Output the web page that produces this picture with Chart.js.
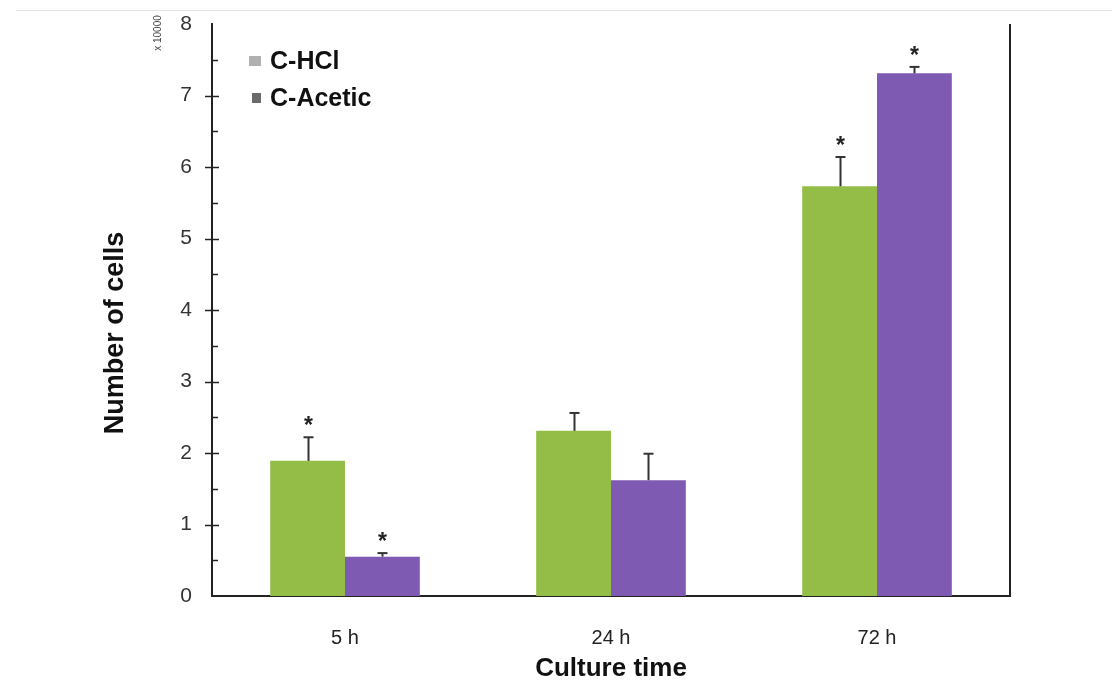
<!DOCTYPE html>
<html>
<head>
<meta charset="utf-8">
<script src="https://cdn.jsdelivr.net/npm/chart.js@4.4.1/dist/chart.umd.min.js"></script>
<style>
  html, body { margin: 0; padding: 0; background: #ffffff; }
  #wrap { width: 1112px; height: 682px; position: relative; }
</style>
</head>
<body>
<div id="wrap"><canvas id="c" width="1112" height="682"></canvas></div>
<script>
// Culture times and cell counts (x 10000)
const categories = ['5 h', '24 h', '72 h'];
const hclValues = [1.89, 2.31, 5.73];
const aceticValues = [0.55, 1.62, 7.31];
// upper end of each error bar
const hclErrTop = [2.22, 2.56, 6.14];
const aceticErrTop = [0.60, 1.99, 7.40];
// significance marks
const hclStar = [true, false, true];
const aceticStar = [true, false, true];
const seriesNames = ['C-HCl', 'C-Acetic'];
const yMin = 0, yMax = 8, yStep = 1;

const GREEN = '#94bd48';
const PURPLE = '#7e5ab2';
const AXIS = '#222222';

// axis tick marks: major ticks cross the axis, minor ticks inside
const tickMarks = {
  id: 'tickMarks',
  afterDraw(chart) {
    const { ctx, chartArea } = chart;
    const y = chart.scales.y;
    const x0 = chartArea.left;
    ctx.save();
    ctx.strokeStyle = AXIS;
    ctx.lineWidth = 1.5;
    for (let v = yMin; v <= yMax; v += yStep) {
      const py = Math.round(y.getPixelForValue(v)) + 0.5;
      if (v > yMin && v < yMax) {
        ctx.beginPath(); ctx.moveTo(x0 - 7, py); ctx.lineTo(x0 + 7, py); ctx.stroke();
      }
      const half = v + yStep / 2;
      if (half < yMax) {
        const ph = Math.round(y.getPixelForValue(half)) + 0.5;
        ctx.beginPath(); ctx.moveTo(x0, ph); ctx.lineTo(x0 + 6, ph); ctx.stroke();
      }
    }
    // right frame line
    ctx.lineWidth = 2;
    ctx.beginPath();
    ctx.moveTo(chartArea.right, chartArea.top);
    ctx.lineTo(chartArea.right, chartArea.bottom);
    ctx.stroke();
    ctx.restore();
  }
};

// error bars and asterisks above the bars
const errorBars = {
  id: 'errorBars',
  afterDatasetsDraw(chart) {
    const { ctx } = chart;
    const y = chart.scales.y;
    const tops = [hclErrTop, aceticErrTop];
    const stars = [hclStar, aceticStar];
    ctx.save();
    chart.data.datasets.forEach((ds, di) => {
      const meta = chart.getDatasetMeta(di);
      meta.data.forEach((bar, i) => {
        const x = Math.round(bar.x) + 0.5;
        const yBar = bar.y;
        const yErr = y.getPixelForValue(tops[di][i]);
        ctx.strokeStyle = '#333333';
        ctx.lineWidth = 2;
        ctx.beginPath();
        ctx.moveTo(x, yBar);
        ctx.lineTo(x, yErr);
        ctx.stroke();
        ctx.beginPath();
        ctx.moveTo(x - 5, yErr);
        ctx.lineTo(x + 5, yErr);
        ctx.stroke();
        if (stars[di][i]) {
          ctx.fillStyle = '#222222';
          ctx.font = 'bold 23px "Liberation Sans", Arial, sans-serif';
          ctx.textAlign = 'center';
          ctx.textBaseline = 'alphabetic';
          ctx.fillText('*', x, yErr - 17 + 13);
        }
      });
    });
    ctx.restore();
  }
};

// legend, y title and scale multiplier
const annotations = {
  id: 'annotations',
  afterDraw(chart) {
    const { ctx } = chart;
    ctx.save();
    // faint outer frame of the figure
    ctx.strokeStyle = '#e4e4e4';
    ctx.lineWidth = 1;
    ctx.beginPath();
    ctx.moveTo(16, 10.5); ctx.lineTo(1112, 10.5);
    ctx.stroke();

    // legend
    const legendColors = ['#b0b0b0', '#6a6a6a'];
    const rows = [61, 98];
    ctx.font = 'bold 25px "Liberation Sans", Arial, sans-serif';
    ctx.textBaseline = 'middle';
    ctx.textAlign = 'left';
    seriesNames.forEach((name, i) => {
      ctx.fillStyle = legendColors[i];
      ctx.fillRect(i === 0 ? 249 : 252, rows[i] - 5, i === 0 ? 12 : 9, 10);
      ctx.fillStyle = '#111111';
      ctx.fillText(name, 270, rows[i] + 1);
    });

    // y axis title
    ctx.save();
    ctx.translate(116, 333);
    ctx.rotate(-Math.PI / 2);
    ctx.textAlign = 'center';
    ctx.textBaseline = 'middle';
    ctx.font = 'bold 27px "Liberation Sans", Arial, sans-serif';
    ctx.fillStyle = '#111111';
    ctx.fillText('Number of cells', 0, 0);
    ctx.restore();

    // multiplier
    ctx.save();
    ctx.translate(158, 33);
    ctx.rotate(-Math.PI / 2);
    ctx.textAlign = 'center';
    ctx.textBaseline = 'middle';
    ctx.font = '10px "Liberation Sans", Arial, sans-serif';
    ctx.fillStyle = '#444444';
    ctx.fillText('x 10000', 0, 0);
    ctx.restore();

    ctx.restore();
  }
};

new Chart(document.getElementById('c'), {
  type: 'bar',
  data: {
    labels: categories,
    datasets: [
      { label: seriesNames[0], data: hclValues, backgroundColor: GREEN, borderWidth: 0 },
      { label: seriesNames[1], data: aceticValues, backgroundColor: PURPLE, borderWidth: 0 }
    ]
  },
  options: {
    responsive: false,
    animation: false,
    devicePixelRatio: 1,
    layout: { padding: { left: 0, top: 24, right: 102, bottom: 0 } },
    datasets: { bar: { categoryPercentage: 0.5625, barPercentage: 1.0 } },
    plugins: { legend: { display: false }, tooltip: { enabled: false } },
    scales: {
      x: {
        grid: { display: false, drawTicks: false },
        border: { display: true, color: AXIS, width: 2 },
        ticks: {
          color: '#222222',
          padding: 30,
          font: { family: '"Liberation Sans", Arial, sans-serif', size: 20 }
        },
        title: {
          display: true,
          text: 'Culture time',
          color: '#111111',
          padding: { top: 0, bottom: 0 },
          font: { family: '"Liberation Sans", Arial, sans-serif', size: 26, weight: 'bold', lineHeight: 1 }
        },
        afterFit(scale) {
          scale.height = 86;
          scale.paddingLeft = 0; scale.paddingRight = 0;
        }
      },
      y: {
        min: yMin,
        max: yMax,
        grid: { display: false, drawTicks: false },
        border: { display: true, color: AXIS, width: 2 },
        ticks: {
          stepSize: yStep,
          color: '#333333',
          padding: 20,
          font: { family: '"Liberation Sans", Arial, sans-serif', size: 21 }
        },
        afterFit(scale) {
          scale.width = 212;
          scale.paddingTop = 0; scale.paddingBottom = 0;
        }
      }
    }
  },
  plugins: [tickMarks, errorBars, annotations]
});
</script>
</body>
</html>
